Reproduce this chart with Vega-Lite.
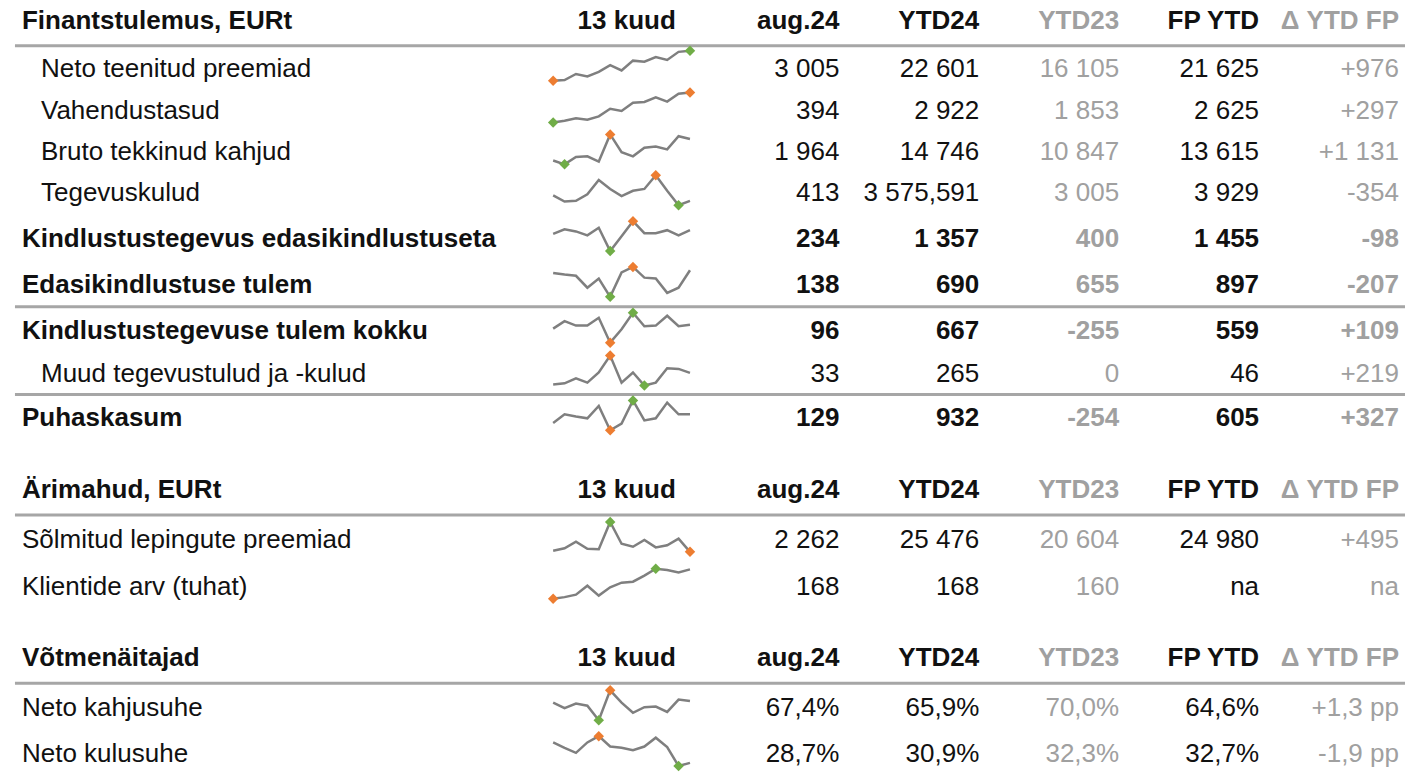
{
  "$schema": "https://vega.github.io/schema/vega-lite/v6.json",
  "width": 1407,
  "height": 772,
  "autosize": {"type": "fit", "contains": "padding"},
  "padding": 0,
  "background": "white",
  "config": {"view": {"stroke": null}, "text": {"font": "Liberation Sans", "fontSize": 26, "baseline": "middle", "dy": 1}},
  "datasets": {
    "read": [
      {"rida": 0, "silt": "Finantstulemus, EURt", "tase": "pealkiri", "kuud": "13 kuud", "aug": "aug.24", "ytd24": "YTD24", "ytd23": "YTD23", "fp": "FP YTD", "delta": "Δ YTD FP"},
      {"rida": 1.067, "silt": "Neto teenitud preemiad", "tase": "alam", "aug": "3 005", "ytd24": "22 601", "ytd23": "16 105", "fp": "21 625", "delta": "+976"},
      {"rida": 2.0, "silt": "Vahendustasud", "tase": "alam", "aug": "394", "ytd24": "2 922", "ytd23": "1 853", "fp": "2 625", "delta": "+297"},
      {"rida": 2.933, "silt": "Bruto tekkinud kahjud", "tase": "alam", "aug": "1 964", "ytd24": "14 746", "ytd23": "10 847", "fp": "13 615", "delta": "+1 131"},
      {"rida": 3.844, "silt": "Tegevuskulud", "tase": "alam", "aug": "413", "ytd24": "3 575,591", "ytd23": "3 005", "fp": "3 929", "delta": "-354"},
      {"rida": 4.867, "silt": "Kindlustustegevus edasikindlustuseta", "tase": "paks", "aug": "234", "ytd24": "1 357", "ytd23": "400", "fp": "1 455", "delta": "-98"},
      {"rida": 5.889, "silt": "Edasikindlustuse tulem", "tase": "paks", "aug": "138", "ytd24": "690", "ytd23": "655", "fp": "897", "delta": "-207"},
      {"rida": 6.911, "silt": "Kindlustustegevuse tulem kokku", "tase": "paks", "aug": "96", "ytd24": "667", "ytd23": "-255", "fp": "559", "delta": "+109"},
      {"rida": 7.867, "silt": "Muud tegevustulud ja -kulud", "tase": "alam", "aug": "33", "ytd24": "265", "ytd23": "0", "fp": "46", "delta": "+219"},
      {"rida": 8.867, "silt": "Puhaskasum", "tase": "paks", "aug": "129", "ytd24": "932", "ytd23": "-254", "fp": "605", "delta": "+327"},
      {"rida": 10.467, "silt": "Ärimahud, EURt", "tase": "pealkiri", "kuud": "13 kuud", "aug": "aug.24", "ytd24": "YTD24", "ytd23": "YTD23", "fp": "FP YTD", "delta": "Δ YTD FP"},
      {"rida": 11.578, "silt": "Sõlmitud lepingute preemiad", "tase": "tava", "aug": "2 262", "ytd24": "25 476", "ytd23": "20 604", "fp": "24 980", "delta": "+495"},
      {"rida": 12.622, "silt": "Klientide arv (tuhat)", "tase": "tava", "aug": "168", "ytd24": "168", "ytd23": "160", "fp": "na", "delta": "na"},
      {"rida": 14.222, "silt": "Võtmenäitajad", "tase": "pealkiri", "kuud": "13 kuud", "aug": "aug.24", "ytd24": "YTD24", "ytd23": "YTD23", "fp": "FP YTD", "delta": "Δ YTD FP"},
      {"rida": 15.333, "silt": "Neto kahjusuhe", "tase": "tava", "aug": "67,4%", "ytd24": "65,9%", "ytd23": "70,0%", "fp": "64,6%", "delta": "+1,3 pp"},
      {"rida": 16.356, "silt": "Neto kulusuhe", "tase": "tava", "aug": "28,7%", "ytd24": "30,9%", "ytd23": "32,3%", "fp": "32,7%", "delta": "-1,9 pp"}
    ],
    "veerud": [
      {"veerg": "aug", "nr": 6},
      {"veerg": "ytd24", "nr": 7},
      {"veerg": "ytd23", "nr": 8},
      {"veerg": "fp", "nr": 9},
      {"veerg": "delta", "nr": 10}
    ],
    "jooned": [
      {"rida": 0.578},
      {"rida": 6.4},
      {"rida": 8.356},
      {"rida": 11.044},
      {"rida": 14.8}
    ],
    "sparkid": [
      {"silt": "Neto teenitud preemiad", "kuu": [0,1,2,3,4,5,6,7,8,9,10,11,12], "v": [8,10,27,20,33,52,37,65,62,75,67,90,93], "hea": 12, "halb": 0},
      {"silt": "Vahendustasud", "kuu": [0,1,2,3,4,5,6,7,8,9,10,11,12], "v": [5,10,17,13,22,43,37,60,62,75,63,85,88], "hea": 0, "halb": 12},
      {"silt": "Bruto tekkinud kahjud", "kuu": [0,1,2,3,4,5,6,7,8,9,10,11,12], "v": [18,7,28,30,15,93,42,30,55,58,50,88,80], "hea": 1, "halb": 5},
      {"silt": "Tegevuskulud", "kuu": [0,1,2,3,4,5,6,7,8,9,10,11,12], "v": [32,15,17,35,75,50,30,45,50,88,45,5,17], "hea": 11, "halb": 9},
      {"silt": "Kindlustustegevus edasikindlustuseta", "kuu": [0,1,2,3,4,5,6,7,8,9,10,11,12], "v": [60,75,68,55,80,3,52,102,62,62,72,55,72], "hea": 5, "halb": 7},
      {"silt": "Edasikindlustuse tulem", "kuu": [0,1,2,3,4,5,6,7,8,9,10,11,12], "v": [83,78,74,35,65,5,85,103,68,65,18,35,92], "hea": 5, "halb": 7},
      {"silt": "Kindlustustegevuse tulem kokku", "kuu": [0,1,2,3,4,5,6,7,8,9,10,11,12], "v": [52,77,62,62,88,5,50,105,60,62,95,60,65], "hea": 7, "halb": 5},
      {"silt": "Muud tegevustulud ja -kulud", "kuu": [0,1,2,3,4,5,6,7,8,9,10,11,12], "v": [5,8,22,10,38,85,10,38,2,10,50,48,37], "hea": 8, "halb": 5},
      {"silt": "Puhaskasum", "kuu": [0,1,2,3,4,5,6,7,8,9,10,11,12], "v": [27,55,48,42,82,3,25,100,35,42,93,55,55], "hea": 7, "halb": 5},
      {"silt": "Sõlmitud lepingute preemiad", "kuu": [0,1,2,3,4,5,6,7,8,9,10,11,12], "v": [7,15,37,13,12,103,30,20,43,18,25,47,3], "hea": 5, "halb": 12},
      {"silt": "Klientide arv (tuhat)", "kuu": [0,1,2,3,4,5,6,7,8,9,10,11,12], "v": [5,10,18,47,15,42,57,60,80,102,98,90,100], "hea": 9, "halb": 0},
      {"silt": "Neto kahjusuhe", "kuu": [0,1,2,3,4,5,6,7,8,9,10,11,12], "v": [65,47,62,55,8,105,65,32,50,52,35,75,70], "hea": 4, "halb": 5},
      {"silt": "Neto kulusuhe", "kuu": [0,1,2,3,4,5,6,7,8,9,10,11,12], "v": [80,63,47,80,100,67,63,55,67,95,65,5,15], "hea": 11, "halb": 4}
    ]
  },
  "layer": [
    {
      "data": {"name": "jooned"},
      "mark": {"type": "rule", "stroke": "#a6a6a6", "strokeWidth": 3},
      "encoding": {
        "x": {"datum": 0.107, "type": "quantitative", "scale": {"domain": [0, 10.043], "nice": false, "zero": false}, "axis": null},
        "x2": {"datum": 10.043},
        "y": {"field": "rida", "type": "quantitative", "scale": {"domain": [-0.444, 16.711], "reverse": true, "nice": false, "zero": false}, "axis": null}
      }
    },
    {
      "data": {"name": "read"},
      "transform": [{"filter": "datum.tase == 'pealkiri' || datum.tase == 'paks'"}],
      "mark": {"type": "text", "align": "left", "fontWeight": "bold", "color": "#111111"},
      "encoding": {
        "x": {"datum": 0.157, "type": "quantitative", "scale": {"domain": [0, 10.043], "nice": false, "zero": false}, "axis": null},
        "y": {"field": "rida", "type": "quantitative", "scale": {"domain": [-0.444, 16.711], "reverse": true, "nice": false, "zero": false}, "axis": null},
        "text": {"field": "silt"}
      }
    },
    {
      "data": {"name": "read"},
      "transform": [{"filter": "datum.tase == 'tava'"}],
      "mark": {"type": "text", "align": "left", "color": "#111111"},
      "encoding": {
        "x": {"datum": 0.157, "type": "quantitative", "scale": {"domain": [0, 10.043], "nice": false, "zero": false}, "axis": null},
        "y": {"field": "rida", "type": "quantitative", "scale": {"domain": [-0.444, 16.711], "reverse": true, "nice": false, "zero": false}, "axis": null},
        "text": {"field": "silt"}
      }
    },
    {
      "data": {"name": "read"},
      "transform": [{"filter": "datum.tase == 'alam'"}],
      "mark": {"type": "text", "align": "left", "color": "#111111"},
      "encoding": {
        "x": {"datum": 0.293, "type": "quantitative", "scale": {"domain": [0, 10.043], "nice": false, "zero": false}, "axis": null},
        "y": {"field": "rida", "type": "quantitative", "scale": {"domain": [-0.444, 16.711], "reverse": true, "nice": false, "zero": false}, "axis": null},
        "text": {"field": "silt"}
      }
    },
    {
      "data": {"name": "read"},
      "transform": [{"filter": "datum.tase == 'pealkiri'"}],
      "mark": {"type": "text", "align": "center", "fontWeight": "bold", "color": "#111111"},
      "encoding": {
        "x": {"datum": 4.48, "type": "quantitative", "scale": {"domain": [0, 10.043], "nice": false, "zero": false}, "axis": null},
        "y": {"field": "rida", "type": "quantitative", "scale": {"domain": [-0.444, 16.711], "reverse": true, "nice": false, "zero": false}, "axis": null},
        "text": {"field": "kuud"}
      }
    },
    {
      "data": {"name": "read"},
      "transform": [
        {"filter": "datum.tase == 'pealkiri' || datum.tase == 'paks'"},
        {"fold": ["aug", "ytd24", "ytd23", "fp", "delta"], "as": ["veerg", "tekst"]},
        {"lookup": "veerg", "from": {"data": {"name": "veerud"}, "key": "veerg", "fields": ["nr"]}}
      ],
      "mark": {"type": "text", "align": "right", "fontWeight": "bold"},
      "encoding": {
        "x": {"field": "nr", "type": "quantitative", "scale": {"domain": [0, 10.043], "nice": false, "zero": false}, "axis": null},
        "y": {"field": "rida", "type": "quantitative", "scale": {"domain": [-0.444, 16.711], "reverse": true, "nice": false, "zero": false}, "axis": null},
        "text": {"field": "tekst"},
        "color": {"condition": {"test": "datum.veerg == 'ytd23' || datum.veerg == 'delta'", "value": "#a0a0a0"}, "value": "#111111"}
      }
    },
    {
      "data": {"name": "read"},
      "transform": [
        {"filter": "datum.tase == 'tava' || datum.tase == 'alam'"},
        {"fold": ["aug", "ytd24", "ytd23", "fp", "delta"], "as": ["veerg", "tekst"]},
        {"lookup": "veerg", "from": {"data": {"name": "veerud"}, "key": "veerg", "fields": ["nr"]}}
      ],
      "mark": {"type": "text", "align": "right"},
      "encoding": {
        "x": {"field": "nr", "type": "quantitative", "scale": {"domain": [0, 10.043], "nice": false, "zero": false}, "axis": null},
        "y": {"field": "rida", "type": "quantitative", "scale": {"domain": [-0.444, 16.711], "reverse": true, "nice": false, "zero": false}, "axis": null},
        "text": {"field": "tekst"},
        "color": {"condition": {"test": "datum.veerg == 'ytd23' || datum.veerg == 'delta'", "value": "#a0a0a0"}, "value": "#111111"}
      }
    },
    {
      "data": {"name": "sparkid"},
      "transform": [
        {"flatten": ["kuu", "v"]},
        {"lookup": "silt", "from": {"data": {"name": "read"}, "key": "silt", "fields": ["rida"]}},
        {"joinaggregate": [{"op": "min", "field": "v", "as": "vmin"}, {"op": "max", "field": "v", "as": "vmax"}], "groupby": ["silt"]},
        {"calculate": "datum.rida - 0.044 + 0.333 - 0.667 * (datum.v - datum.vmin) / (datum.vmax - datum.vmin)", "as": "ys"},
        {"calculate": "3.954 + datum.kuu * 0.0815", "as": "xs"}
      ],
      "mark": {"type": "line", "stroke": "#7f7f7f", "strokeWidth": 2.5},
      "encoding": {
        "x": {"field": "xs", "type": "quantitative", "scale": {"domain": [0, 10.043], "nice": false, "zero": false}, "axis": null},
        "y": {"field": "ys", "type": "quantitative", "scale": {"domain": [-0.444, 16.711], "reverse": true, "nice": false, "zero": false}, "axis": null},
        "detail": {"field": "silt"},
        "order": {"field": "kuu"}
      }
    },
    {
      "data": {"name": "sparkid"},
      "transform": [
        {"flatten": ["kuu", "v"]},
        {"lookup": "silt", "from": {"data": {"name": "read"}, "key": "silt", "fields": ["rida"]}},
        {"joinaggregate": [{"op": "min", "field": "v", "as": "vmin"}, {"op": "max", "field": "v", "as": "vmax"}], "groupby": ["silt"]},
        {"calculate": "datum.rida - 0.044 + 0.333 - 0.667 * (datum.v - datum.vmin) / (datum.vmax - datum.vmin)", "as": "ys"},
        {"calculate": "3.954 + datum.kuu * 0.0815", "as": "xs"},
        {"filter": "datum.kuu == datum.hea || datum.kuu == datum.halb"}
      ],
      "mark": {"type": "point", "shape": "diamond", "filled": true, "size": 110, "opacity": 1},
      "encoding": {
        "x": {"field": "xs", "type": "quantitative", "scale": {"domain": [0, 10.043], "nice": false, "zero": false}, "axis": null},
        "y": {"field": "ys", "type": "quantitative", "scale": {"domain": [-0.444, 16.711], "reverse": true, "nice": false, "zero": false}, "axis": null},
        "color": {"condition": {"test": "datum.kuu == datum.hea", "value": "#70ad47"}, "value": "#ed7d31"}
      }
    }
  ]
}
